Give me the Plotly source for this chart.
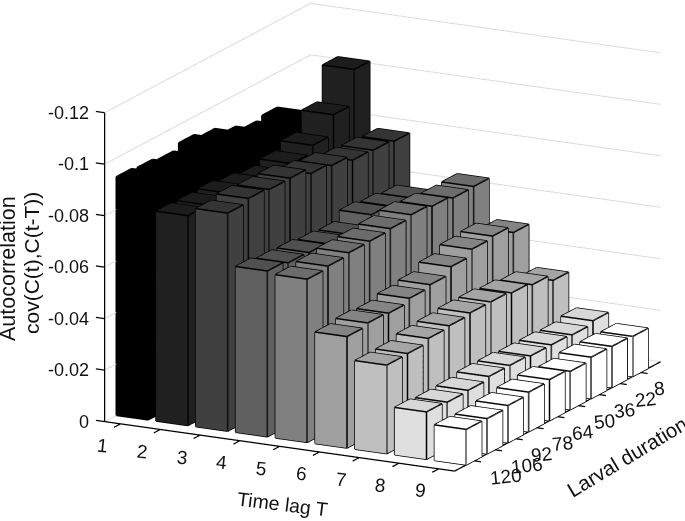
import numpy as np
import plotly.graph_objects as go

time_lags = [1, 2, 3, 4, 5, 6, 7, 8, 9]
larval_labels = ["120", "106", "92", "78", "64", "50", "36", "22", "8"]
z_ticks = [0, -0.02, -0.04, -0.06, -0.08, -0.1, -0.12]
z_labels = ["0", "-0.02", "-0.04", "-0.06", "-0.08", "-0.1", "-0.12"]

# one list per time lag; entries run from larval duration 120 to 8
lag1 = [-0.0927, -0.092, -0.0909, -0.093, -0.0911, -0.0877, -0.0854, -0.0865, -0.081]
lag2 = [-0.0815, -0.0813, -0.0816, -0.0802, -0.0788, -0.0803, -0.0831, -0.0907, -0.104]
lag3 = [-0.0847, -0.0861, -0.0853, -0.0854, -0.0829, -0.0817, -0.0795, -0.0791, -0.0783]
lag4 = [-0.0644, -0.0633, -0.063, -0.062, -0.0614, -0.0648, -0.0638, -0.0627, -0.056]
lag5 = [-0.0634, -0.0642, -0.0651, -0.0653, -0.0659, -0.067, -0.066, -0.0649, -0.0651]
lag6 = [-0.0433, -0.0443, -0.0438, -0.0453, -0.0463, -0.049, -0.0515, -0.0523, -0.0494]
lag7 = [-0.0344, -0.0346, -0.0362, -0.0368, -0.0375, -0.0375, -0.0367, -0.0356, -0.033]
lag8 = [-0.0184, -0.0179, -0.0182, -0.0193, -0.0193, -0.0187, -0.0187, -0.0183, -0.0195]
lag9 = [-0.0138, -0.0137, -0.0145, -0.0154, -0.016, -0.0149, -0.0161, -0.016, -0.0156]
all_lags = [lag1, lag2, lag3, lag4, lag5, lag6, lag7, lag8, lag9]

front_gray = [0, 32, 64, 96, 128, 159, 191, 223, 255]
top_gray = [0, 28, 52, 80, 108, 132, 165, 215, 255]

# drawn axis box
X_BOX = [0.6, 9.4]
Y_BOX = [0.07, 9.97]
Z_BOX = [0, -0.12]
# scene range: the box plus a margin so that lines on the box are not clipped
X_PAD, Y_PAD, Z_PAD = 0.5, 0.5, 0.005

HALF_W, HALF_D = 0.4, 0.37
vx, vy, vz, fi, fj, fk, fc = [], [], [], [], [], [], []
ex, ey, ez = [], [], []
quads = [(0, 1, 5, 4, "s"), (1, 2, 6, 5, "s"), (2, 3, 7, 6, "s"), (3, 0, 4, 7, "s"), (4, 5, 6, 7, "t")]
for t_i, vals in enumerate(all_lags):
    for r_i, v in enumerate(vals):
        t, r = time_lags[t_i], r_i + 1
        n = len(vx)
        xs = [t - HALF_W, t + HALF_W, t + HALF_W, t - HALF_W]
        ys = [r - HALF_D, r - HALF_D, r + HALF_D, r + HALF_D]
        vx += xs + xs
        vy += ys + ys
        vz += [0] * 4 + [v] * 4
        for a, b, c, d, kind in quads:
            g = front_gray[t_i] if kind == "s" else top_gray[t_i]
            col = f"rgb({g},{g},{g})"
            fi += [n + a, n + a]
            fj += [n + b, n + c]
            fk += [n + c, n + d]
            fc += [col, col]
        for a in range(4):
            b = (a + 1) % 4
            for p, q in [(a, b), (a + 4, b + 4), (a, a + 4)]:
                ex += [vx[n + p], vx[n + q], None]
                ey += [vy[n + p], vy[n + q], None]
                ez += [vz[n + p], vz[n + q], None]

x0, x1 = X_BOX
y0, y1 = Y_BOX
z_top = Z_BOX[1]
ax, ay, az = [], [], []
def seg(p, q):
    ax.extend([p[0], q[0], None])
    ay.extend([p[1], q[1], None])
    az.extend([p[2], q[2], None])
seg((x0, y0, 0), (x0, y0, z_top))
seg((x0, y0, 0), (x1, y0, 0))
seg((x1, y0, 0), (x1, y1, 0))
for t in time_lags:
    seg((t, y0, 0), (t, y0 - 0.31, 0))
for r in range(1, 10):
    seg((x1, r, 0), (x1 + 0.18, r, 0))
for zv in z_ticks:
    seg((x0, y0, zv), (x0 - 0.22, y0, zv))
gx, gy, gz = [], [], []
for zv in z_ticks:
    gx += [x0, x0, x1, None]
    gy += [y0, y1, y1, None]
    gz += [zv, zv, zv, None]

fig = go.Figure()
fig.add_trace(go.Scatter3d(x=gx, y=gy, z=gz, mode="lines", line=dict(color="#dcdcdc", width=2),
                           hoverinfo="skip", showlegend=False))
fig.add_trace(go.Mesh3d(x=vx, y=vy, z=vz, i=fi, j=fj, k=fk, facecolor=fc, flatshading=True,
                        lighting=dict(ambient=1, diffuse=0, specular=0, roughness=1, fresnel=0),
                        hoverinfo="skip"))
fig.add_trace(go.Scatter3d(x=ex, y=ey, z=ez, mode="lines", line=dict(color="#000000", width=3),
                           hoverinfo="skip", showlegend=False))
fig.add_trace(go.Scatter3d(x=ax, y=ay, z=az, mode="lines", line=dict(color="#000000", width=2.5),
                           hoverinfo="skip", showlegend=False))

theta, phi = np.radians(15.9), np.radians(-62.7)
view = np.array([np.cos(theta) * np.cos(phi), np.cos(theta) * np.sin(phi), np.sin(theta)])
right = np.array([-np.sin(phi), np.cos(phi), 0])
up = np.array([-np.sin(theta) * np.cos(phi), -np.sin(theta) * np.sin(phi), np.cos(theta)])
S = 263.0
center = (-40.5 / S) * right + (-23.5 / S) * up
eye = center + 3.0 * view

axis_common = dict(title=dict(text=""), showbackground=False, showspikes=False, zeroline=False,
                   showline=False, ticks="", showticklabels=False, showgrid=False)

TF = dict(family="Liberation Sans", size=18, color="#111111")
TF2 = dict(family="Liberation Sans", size=19, color="#111111")
scene_notes = []
for t in time_lags:
    scene_notes.append(dict(x=t, y=y0, z=0, text=str(t), showarrow=False, font=TF2,
                            xanchor="center", yanchor="middle", xshift=-18, yshift=-22, textangle=6))
for r_i, lab in enumerate(larval_labels):
    scene_notes.append(dict(x=x1, y=r_i + 1, z=0, text=lab, showarrow=False, font=TF2,
                            xanchor="center", yanchor="middle", xshift=13 + 6.5 * len(lab), yshift=-16,
                            textangle=-6))
for zv, lab in zip(z_ticks, z_labels):
    scene_notes.append(dict(x=x0, y=y0, z=zv, text=lab, showarrow=False, font=TF,
                            xanchor="right", yanchor="middle", xshift=-14, yshift=0))

fig.update_layout(
    width=685, height=521, margin=dict(l=0, r=0, t=0, b=0), paper_bgcolor="white",
    showlegend=False,
    scene=dict(
        domain=dict(x=[0, 1], y=[0, 1]),
        aspectmode="manual",
        aspectratio=dict(x=1.512 * (x1 - x0 + 2 * X_PAD) / (x1 - x0),
                         y=1.724 * (y1 - y0 + 2 * Y_PAD) / (y1 - y0),
                         z=1.233 * (0.12 + 2 * Z_PAD) / 0.12),
        camera=dict(projection=dict(type="orthographic"), up=dict(x=0, y=0, z=1),
                    center=dict(x=center[0], y=center[1], z=center[2]),
                    eye=dict(x=eye[0], y=eye[1], z=eye[2])),
        xaxis=dict(range=[x0 - X_PAD, x1 + X_PAD], tickvals=time_lags, **axis_common),
        yaxis=dict(range=[y0 - Y_PAD, y1 + Y_PAD], tickvals=list(range(1, 10)), **axis_common),
        zaxis=dict(range=[Z_PAD, z_top - Z_PAD], tickvals=z_ticks, **axis_common),
        annotations=scene_notes,
    ),
    annotations=[
        dict(text="Autocorrelation", x=8 / 685, y=1 - 269 / 521, textangle=-90, font=dict(size=21.5)),
        dict(text="cov(C(t),C(t-T))", x=31 / 685, y=1 - 263 / 521, textangle=-90, font=dict(size=21)),
        dict(text="Time lag T", x=282 / 685, y=1 - 504 / 521, textangle=7, font=dict(size=19.5)),
        dict(text="Larval duration", x=627 / 685, y=1 - 456 / 521, textangle=-31, font=dict(size=20.5)),
    ],
)
for a in fig.layout.annotations:
    a.update(xref="paper", yref="paper", showarrow=False, xanchor="center", yanchor="middle",
             font=dict(family="Liberation Sans", size=a.font.size, color="#111111"))
fig.write_html("out.html", config={"displayModeBar": False},
               post_script="document.body.style.margin='0';")
